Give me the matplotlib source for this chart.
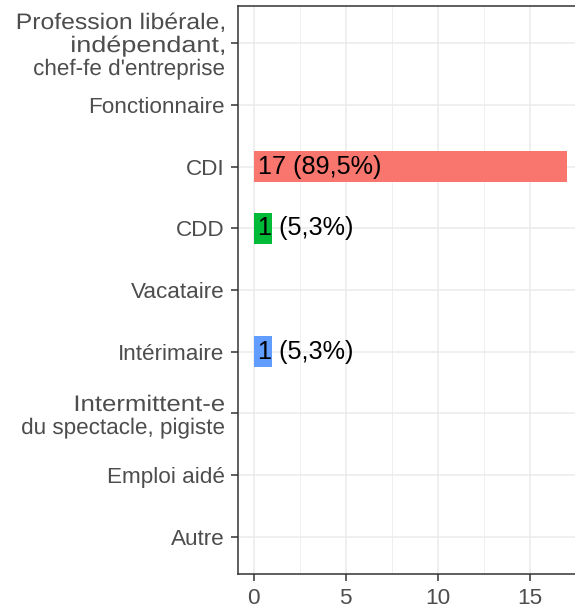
import matplotlib
matplotlib.use("Agg")
import matplotlib.pyplot as plt
import matplotlib.transforms as mtransforms
from matplotlib.textpath import TextPath
from matplotlib.patches import PathPatch
from matplotlib.font_manager import FontProperties
import numpy as np

plt.rcParams['font.family'] = ['Liberation Sans', 'DejaVu Sans']

categories = [
    "Profession libérale,\nindépendant,\nchef-fe d'entreprise",
    "Fonctionnaire",
    "CDI",
    "CDD",
    "Vacataire",
    "Intérimaire",
    "Intermittent-e\ndu spectacle, pigiste",
    "Emploi aidé",
    "Autre",
]
counts = [0, 0, 17, 1, 0, 1, 0, 0, 0]
bar_colors = ["#F8766D", "#F8766D", "#F8766D", "#00BA38", "#00BA38",
              "#619CFF", "#619CFF", "#619CFF", "#619CFF"]
x_ticks = [0, 5, 10, 15]

# the wrapped labels come out horizontally stretched in the original render
line_stretch = {"Profession libérale,": 1.10, "indépendant,": 1.20,
                "Intermittent-e": 1.145}

total = sum(counts)
ypos = np.arange(len(categories))
label_px = 22.5
label_color = "#4D4D4D"

fig = plt.figure(figsize=(5.75, 6.08), dpi=100)
ax = fig.add_axes([238 / 575, 1 - 574 / 608, 344.5 / 575, 568 / 608])

for y, c, col in zip(ypos, counts, bar_colors):
    if c > 0:
        ax.barh(y, c, height=0.5, color=col, linewidth=0, zorder=2)
        pct = f"{100 * c / total:.1f}".replace(".", ",")
        ax.annotate(f"{c} ({pct}%)", (0, y), xytext=(3, 0), textcoords="offset points",
                    ha="left", va="center", fontsize=18.2, color="black", zorder=3)

ax.set_xlim(-0.85, 17.85)
ax.set_ylim(len(categories) - 0.4, -0.6)
ax.set_yticks(ypos)
ax.set_yticklabels([lab if "\n" not in lab else "" for lab in categories])
ax.set_xticks(x_ticks)
ax.set_xticks([2.5, 7.5, 12.5, 17.5], minor=True)

# multi-line labels drawn line by line
fp = FontProperties(family="Liberation Sans")
blend = mtransforms.blended_transform_factory(ax.transAxes, ax.transData)
for y, lab in zip(ypos, categories):
    if "\n" not in lab:
        continue
    lines = lab.split("\n")
    n = len(lines)
    for i, line in enumerate(lines):
        tp = TextPath((0, 0), line, size=label_px, prop=fp)
        sx = line_stretch.get(line, 1.0)
        xmax = tp.get_extents().xmax * sx
        base = 9 + (i - (n - 1) / 2) * 23
        tr = (mtransforms.Affine2D().scale(sx, 1).translate(-14 - xmax, -base)
              + mtransforms.ScaledTranslation(0, y, blend))
        fig.add_artist(PathPatch(tp, transform=tr, facecolor=label_color,
                                 edgecolor="none", clip_on=False))

ax.grid(which="major", color="#EBEBEB", linewidth=1.1, zorder=0)
ax.grid(which="minor", axis="x", color="#EBEBEB", linewidth=0.55, zorder=0)
ax.set_axisbelow(True)

for s in ax.spines.values():
    s.set_color("#333333")
    s.set_linewidth(1.1)

ax.tick_params(axis="both", which="major", length=5, width=1.1, color="#333333",
               labelcolor=label_color, labelsize=16.2)
ax.tick_params(axis="y", which="major", pad=4.7)
ax.tick_params(axis="x", which="major", pad=5)
ax.tick_params(axis="x", which="minor", length=0)

fig.savefig("out.png", dpi=100)
